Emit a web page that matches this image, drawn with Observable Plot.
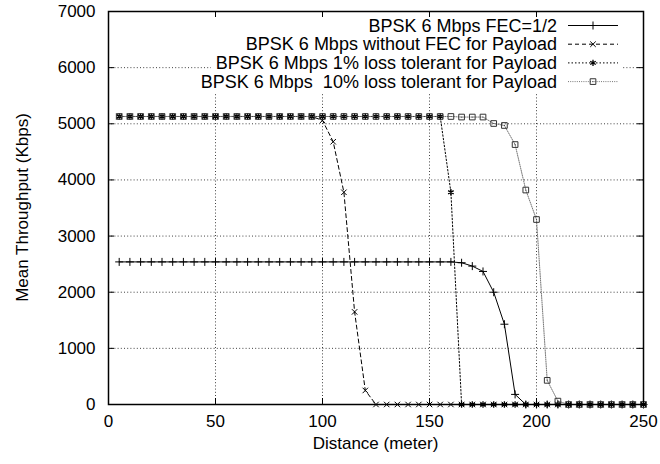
<!DOCTYPE html>
<html>
<head>
<meta charset="utf-8">
<script src="https://cdn.jsdelivr.net/npm/d3@7"></script>
<script src="https://cdn.jsdelivr.net/npm/@observablehq/plot@0.6"></script>
<style>
  html, body { margin: 0; padding: 0; background: white; }
</style>
</head>
<body>
<div id="chart"></div>
<script>
const distance = [5,10,15,20,25,30,35,40,45,50,55,60,65,70,75,80,85,90,95,100,105,110,115,120,125,130,135,140,145,150,155,160,165,170,175,180,185,190,195,200,205,210,215,220,225,230,235,240,245,250];

const fecHalf = [2540,2540,2540,2540,2540,2540,2540,2540,2540,2540,2540,2540,2540,2540,2540,2540,2540,2540,2540,2540,2540,2540,2540,2540,2540,2540,2540,2540,2540,2540,2540,2540,2525,2465,2370,2000,1430,180,0,0,0,0,0,0,0,0,0,0,0,0];

const noFec = [5130,5130,5130,5130,5130,5130,5130,5130,5130,5130,5130,5130,5130,5130,5130,5130,5130,5130,5130,5060,4680,3780,1650,250,0,0,0,0,0,0,0,0,0,0,0,0,0,0,0,0,0,0,0,0,0,0,0,0,0,0];

const loss1 = [5130,5130,5130,5130,5130,5130,5130,5130,5130,5130,5130,5130,5130,5130,5130,5130,5130,5130,5130,5130,5130,5130,5130,5130,5130,5130,5130,5130,5130,5130,5130,3780,0,0,0,0,0,0,0,0,0,0,0,0,0,0,0,0,0,0];

const loss10 = [5130,5130,5130,5130,5130,5130,5130,5130,5130,5130,5130,5130,5130,5130,5130,5130,5130,5130,5130,5130,5130,5130,5130,5130,5130,5130,5130,5130,5130,5130,5130,5130,5120,5120,5120,5005,4970,4630,3820,3295,430,60,0,0,0,0,0,0,0,0];

const seriesNames = [
  "BPSK 6 Mbps FEC=1/2",
  "BPSK 6 Mbps without FEC for Payload",
  "BPSK 6 Mbps 1% loss tolerant for Payload",
  "BPSK 6 Mbps  10% loss tolerant for Payload"
];
const xTicks = [0,50,100,150,200,250];
const yTicks = [0,1000,2000,3000,4000,5000,6000,7000];
const xLabel = "Distance (meter)";
const yLabel = "Mean Throughput (Kbps)";

const tbl = (vals) => distance.map((d, i) => ({x: d, y: vals[i]}));
const d1 = tbl(fecHalf), d2 = tbl(noFec), d3a = tbl(loss1), d4 = tbl(loss10);

const W = 660, H = 464, ML = 108, MR = 17, MT = 11, MB = 60;
const innerW = W - ML - MR, innerH = H - MT - MB;
const TK = 6;

const styles = [
  {stroke: "#000", dash: null, symbol: "plus", r: 2.7, sw: 1},
  {stroke: "#000", dash: "4,3", symbol: "times", r: 2.6, sw: 1},
  {stroke: "#000", dash: "1.5,2", symbol: "asterisk", r: 3.0, sw: 1.3},
  {stroke: "#777", dash: "1,1.2", symbol: "square", r: 3.2, sw: 1}
];
const datasets = [d1, d2, d3a, d4];

const seriesMarks = [];
datasets.forEach((d, i) => {
  const s = styles[i];
  seriesMarks.push(Plot.line(d, {x: "x", y: "y", stroke: s.stroke, strokeWidth: 1, strokeDasharray: s.dash}));
});
datasets.forEach((d, i) => {
  const s = styles[i];
  const mstroke = i === 3 ? "#333" : "#000";
  seriesMarks.push(Plot.dot(d, {x: "x", y: "y", symbol: () => s.symbol, r: s.r, stroke: mstroke, strokeWidth: s.sw, fill: "none"}));
  if (i === 3) seriesMarks.push(Plot.dot(d, {x: "x", y: "y", r: 0.6, fill: "#444", stroke: "none"}));
});

const plot = Plot.plot({
  width: W, height: H,
  marginLeft: ML, marginRight: MR, marginTop: MT, marginBottom: MB,
  style: {fontFamily: '"Liberation Sans", Arial, Helvetica, sans-serif', fontSize: "17px", background: "white", color: "black", overflow: "visible"},
  x: {domain: [0, 250]},
  y: {domain: [0, 7000]},
  marks: [
    Plot.gridX({ticks: xTicks, stroke: "#000", strokeOpacity: 0.75, strokeDasharray: "1,2.2"}),
    Plot.gridY({ticks: yTicks, stroke: "#000", strokeOpacity: 0.75, strokeDasharray: "1,2.2"}),
    ...seriesMarks,
    Plot.ruleX(xTicks, {x: d => d, insetTop: innerH - TK, stroke: "#000"}),
    Plot.ruleX(xTicks, {x: d => d, insetBottom: innerH - TK, stroke: "#000"}),
    Plot.ruleY(yTicks, {y: d => d, insetRight: innerW - TK, stroke: "#000"}),
    Plot.ruleY(yTicks, {y: d => d, insetLeft: innerW - TK, stroke: "#000"}),
    Plot.axisX({ticks: xTicks, tickSize: 0, tickPadding: 10, label: null, fill: "#000"}),
    Plot.axisY({ticks: yTicks, tickSize: 0, tickPadding: 13, label: null, tickFormat: d => String(d), fill: "#000"}),
    Plot.frame({stroke: "#000", strokeWidth: 1.5})
  ]
});
document.getElementById("chart").appendChild(plot);

// Axis labels and legend (layout annotations)
const svg = d3.select(plot);
const font = '"Liberation Sans", Arial, Helvetica, sans-serif';
svg.append("text")
  .attr("x", ML + innerW / 2).attr("y", 449)
  .attr("text-anchor", "middle").attr("font-family", font).attr("font-size", 17).attr("fill", "#000")
  .text(xLabel);
svg.append("text")
  .attr("transform", `translate(28,${MT + innerH / 2}) rotate(-90)`)
  .attr("text-anchor", "middle").attr("font-family", font).attr("font-size", 17).attr("fill", "#000")
  .text(yLabel);

// white legend box, inserted above the grid but below the data marks
const firstLine = plot.querySelector('g[aria-label="line"]');
const box = document.createElementNS("http://www.w3.org/2000/svg", "rect");
box.setAttribute("x", 211); box.setAttribute("y", 14);
box.setAttribute("width", 411); box.setAttribute("height", 79);
box.setAttribute("fill", "white");
plot.insertBefore(box, firstLine);

const leg = svg.append("g");
const symMap = {plus: d3.symbolPlus, times: d3.symbolTimes, asterisk: d3.symbolAsterisk, square: d3.symbolSquare};
const rowBase = [31.5, 50.2, 68.9, 87.6];
seriesNames.forEach((name, i) => {
  const s = styles[i];
  const yb = rowBase[i];
  const yc = yb - 6;
  leg.append("text").attr("x", 557).attr("y", yb).attr("text-anchor", "end")
    .attr("font-family", font).attr("font-size", 18).attr("fill", "#000")
    .attr("xml:space", "preserve").style("white-space", "pre")
    .text(name);
  leg.append("line").attr("x1", 568).attr("x2", 618).attr("y1", yc).attr("y2", yc)
    .attr("stroke", s.stroke).attr("stroke-width", 1)
    .attr("stroke-dasharray", s.dash);
  leg.append("path").attr("transform", `translate(593,${yc})`)
    .attr("d", d3.symbol(symMap[s.symbol], s.r * s.r * Math.PI)())
    .attr("fill", "none").attr("stroke", i === 3 ? "#333" : "#000").attr("stroke-width", s.sw);
  if (i === 3) leg.append("circle").attr("cx", 593).attr("cy", yc).attr("r", 0.6).attr("fill", "#444");
});
</script>
</body>
</html>
